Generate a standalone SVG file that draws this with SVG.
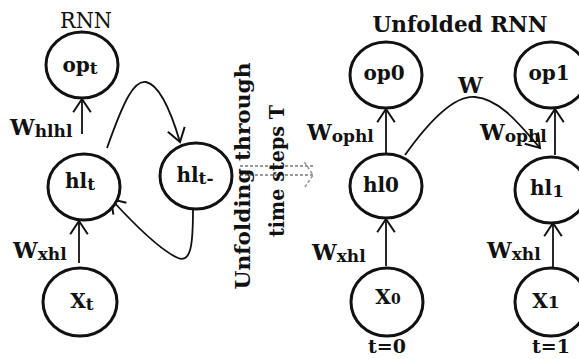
<svg xmlns="http://www.w3.org/2000/svg" width="579" height="359" viewBox="0 0 579 359">
  <defs>
    <marker id="head" markerUnits="userSpaceOnUse" markerWidth="20" markerHeight="22" viewBox="-14 -10 16 20" refX="0" refY="0" orient="auto">
      <path d="M-12,-8 L0,0 L-12,8" fill="none" stroke="#111" stroke-width="1.8"/>
    </marker>
    <marker id="dhead" markerUnits="userSpaceOnUse" markerWidth="14" markerHeight="30" viewBox="-10 -14 12 28" refX="0" refY="0" orient="auto">
      <path d="M-8,-12 L0,0 L-8,12" fill="none" stroke="#999" stroke-width="1.5" stroke-dasharray="3,2"/>
    </marker>
  </defs>
  <style>
    .node ellipse { fill: #fff; stroke: #111; stroke-width: 3; }
    .lbl { font-family: "DejaVu Serif", "Liberation Serif", serif; font-weight: bold; fill: #111; }
    .nl { font-size: 20px; text-anchor: middle; }
    .w { font-size: 22px; }
    .sub { font-size: 17px; }
    .title { font-family: "DejaVu Serif", "Liberation Serif", serif; fill: #111; text-anchor: middle; }
    .edge { fill: none; stroke: #111; stroke-width: 1.8; marker-end: url(#head); }
    .dash { fill: none; stroke: #999; stroke-width: 1.8; stroke-dasharray: 3,2; }
  </style>
  <rect width="579" height="359" fill="#fff"/>

  <text class="title" x="86" y="28" font-size="23" textLength="52" lengthAdjust="spacingAndGlyphs">RNN</text>
  <text class="title" x="460" y="32" font-size="22" font-weight="bold" textLength="175" lengthAdjust="spacingAndGlyphs">Unfolded RNN</text>

  <!-- connectors -->
  <g id="connectors">
    <path class="edge" d="M79,263 L79,221"/>
    <path class="edge" d="M82,134 L82,99"/>
    <path class="edge" d="M107,148 C124,100 134,80 146,82 C160,85 172,115 180,142"/>
    <path class="edge" d="M193,209 C193,245 191,263 178,258 C160,250 132,222 111,199"/>
    <path class="edge" d="M386,266 L386,219"/>
    <path class="edge" d="M386,153 L386,109"/>
    <path class="edge" d="M553,267 L553,223"/>
    <path class="edge" d="M555,155 L555,109"/>
    <path class="edge" d="M405,155 C430,120 455,95 475,97 C500,99 520,125 540,148"/>
    <path class="dash" d="M240,166 L313,166"/>
    <path class="dash" d="M240,175 L313,175" marker-end="url(#dhead)"/>
  </g>

  <!-- folded network -->
  <g id="op_t" class="node">
    <ellipse cx="82" cy="65" rx="36" ry="33"/>
    <text class="lbl nl" x="80" y="72">op<tspan font-size="17" dy="2">t</tspan></text>
  </g>
  <g id="hl_t" class="node">
    <ellipse cx="84" cy="187" rx="36" ry="33"/>
    <text class="lbl nl" x="80" y="188">hl<tspan font-size="17" dy="2">t</tspan></text>
  </g>
  <g id="hl_prev" class="node">
    <ellipse cx="196" cy="176" rx="36" ry="33"/>
    <text class="lbl nl" x="195" y="182">hl<tspan font-size="17" dy="2">t-</tspan></text>
  </g>
  <g id="x_t" class="node">
    <ellipse cx="80" cy="302" rx="37" ry="34"/>
    <text class="lbl nl" x="82" y="308">X<tspan font-size="17" dy="2">t</tspan></text>
  </g>

  <!-- unfolded network -->
  <g id="op0" class="node">
    <ellipse cx="386" cy="75" rx="36" ry="33"/>
    <text class="lbl nl" x="384" y="80">op0</text>
  </g>
  <g id="op1" class="node">
    <ellipse cx="551" cy="75" rx="36" ry="33"/>
    <text class="lbl nl" x="549" y="80">op1</text>
  </g>
  <g id="hl0" class="node">
    <ellipse cx="386" cy="186" rx="36" ry="32"/>
    <text class="lbl nl" x="381" y="192">hl0</text>
  </g>
  <g id="hl1" class="node">
    <ellipse cx="551" cy="190" rx="36" ry="33"/>
    <text class="lbl nl" x="547" y="195">hl<tspan font-size="17" dy="2">1</tspan></text>
  </g>
  <g id="x0" class="node">
    <ellipse cx="387" cy="302" rx="36" ry="34"/>
    <text class="lbl nl" x="388" y="304">X<tspan font-size="14">0</tspan></text>
  </g>
  <g id="x1" class="node">
    <ellipse cx="551" cy="302" rx="36" ry="34"/>
    <text class="lbl nl" x="546" y="308">X<tspan font-size="17">1</tspan></text>
  </g>

  <!-- weight labels -->
  <text class="lbl w" x="10" y="135">W<tspan class="sub" dy="2">hlhl</tspan></text>
  <text class="lbl w" x="13" y="258">W<tspan class="sub" dy="2">xhl</tspan></text>
  <text class="lbl w" x="307" y="140">W<tspan class="sub" dy="2">ophl</tspan></text>
  <text class="lbl w" x="458" y="93">W</text>
  <text class="lbl w" x="480" y="140">W<tspan class="sub" dy="2">ophl</tspan></text>
  <text class="lbl w" x="312" y="260">W<tspan class="sub" dy="2">xhl</tspan></text>
  <text class="lbl w" x="487" y="258">W<tspan class="sub" dy="2">xhl</tspan></text>

  <!-- time step captions -->
  <text class="lbl" x="387" y="353" font-size="19" text-anchor="middle">t=0</text>
  <text class="lbl" x="551" y="353" font-size="19" text-anchor="middle">t=1</text>

  <!-- unfolding caption -->
  <text class="lbl" font-size="20" text-anchor="middle" transform="translate(250,176) rotate(-90)" textLength="227" lengthAdjust="spacingAndGlyphs">Unfolding through</text>
  <text class="lbl" font-size="20" text-anchor="middle" transform="translate(284,171) rotate(-90)" textLength="132" lengthAdjust="spacingAndGlyphs">time steps T</text>
</svg>
